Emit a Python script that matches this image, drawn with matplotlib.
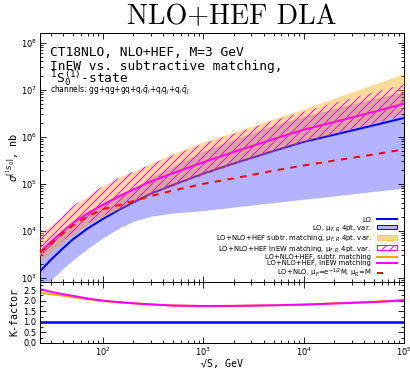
import matplotlib
matplotlib.use('Agg')
import matplotlib.pyplot as plt
from matplotlib.lines import Line2D
from matplotlib.patches import Patch
from matplotlib.ticker import MultipleLocator

# sqrt(S) grid, GeV
sqrts = [23.5, 30, 40, 50, 70, 100, 150, 200, 300, 500, 1e3, 2e3, 5e3, 1e4, 2e4, 5e4, 1e5]

# cross sections, nb
lo = [1.38e3, 2.4e3, 4.3e3, 6.6e3, 1.12e4, 1.8e4, 2.95e4, 4.0e4, 6.2e4, 9.5e4,
      1.65e5, 2.7e5, 5.0e5, 7.8e5, 1.1e6, 1.75e6, 2.5e6]
lo_up = [3.3e3, 5.3e3, 9e3, 1.35e4, 2.3e4, 3.6e4, 5.8e4, 8e4, 1.4e5, 2.4e5,
         5e5, 8.8e5, 1.75e6, 2.7e6, 4e6, 6.5e6, 9e6]
lo_dn = [5.6e2, 8.9e2, 1.6e3, 2.4e3, 4.2e3, 7.2e3, 1.2e4, 1.6e4, 2.05e4, 2.4e4,
         2.7e4, 3.2e4, 4e4, 4.7e4, 5.5e4, 6.9e4, 8.1e4]

sub = [3.28e3, 5.54e3, 9.6e3, 1.43e4, 2.32e4, 3.56e4, 5.66e4, 7.5e4, 1.13e5, 1.68e5,
       2.88e5, 4.73e5, 8.9e5, 1.42e6, 2.06e6, 3.41e6, 5.08e6]
sub_up = [8.9e3, 1.3e4, 2.1e4, 3.2e4, 5.5e4, 9.1e4, 1.45e5, 1.85e5, 2.75e5, 4.4e5,
          7.8e5, 1.25e6, 2.4e6, 3.9e6, 6.6e6, 1.3e7, 2.2e7]
sub_dn = [2.3e3, 3.6e3, 5.8e3, 8.3e3, 1.35e4, 2.0e4, 3.0e4, 3.9e4, 5.8e4, 8.8e4,
          1.55e5, 2.6e5, 5.0e5, 8.0e5, 1.2e6, 2.0e6, 3.2e6]

inew = [3.52e3, 5.81e3, 9.9e3, 1.47e4, 2.35e4, 3.6e4, 5.66e4, 7.5e4, 1.13e5, 1.68e5,
        2.88e5, 4.73e5, 8.9e5, 1.41e6, 2.05e6, 3.38e6, 5.03e6]
inew_up = [9.5e3, 1.45e4, 2.3e4, 3.4e4, 5.6e4, 9.0e4, 1.4e5, 1.8e5, 2.6e5, 4.1e5,
           7.1e5, 1.15e6, 2.2e6, 3.4e6, 5.2e6, 8.8e6, 1.3e7]
inew_dn = [2.6e3, 4e3, 6.3e3, 9e3, 1.45e4, 2.1e4, 3.1e4, 4.0e4, 5.9e4, 8.8e4,
           1.5e5, 2.5e5, 4.7e5, 7.5e5, 1.1e6, 1.85e6, 2.8e6]

nlo = [3.5e3, 5.3e3, 9e3, 1.3e4, 2.05e4, 2.9e4, 3.6e4, 4.3e4, 5.5e4, 7.2e4,
       1.0e5, 1.3e5, 1.9e5, 2.45e5, 3.1e5, 4.2e5, 5.4e5]

k_lo = [v / l for v, l in zip(lo, lo)]
k_sub = [v / l for v, l in zip(sub, lo)]
k_inew = [v / l for v, l in zip(inew, lo)]

c_blue = '#0000ff'
c_band = '#b3b3ff'
c_orange = '#ffa500'
c_mag = '#ff00ff'
c_red = '#ff0000'

plt.rcParams['hatch.linewidth'] = 0.6

fig = plt.figure(figsize=(410 / 120, 370 / 120), dpi=120)
ax = fig.add_axes([40 / 410, 1 - 282 / 370, 364 / 410, 249 / 370])
axk = fig.add_axes([40 / 410, 1 - 343 / 370, 364 / 410, 61 / 370], sharex=ax)

ax.fill_between(sqrts, lo_dn, lo_up, color=c_band, lw=0, zorder=1)
ax.plot(sqrts, lo, color=c_blue, lw=1.2, zorder=2)
ax.fill_between(sqrts, sub_dn, sub_up, color=c_orange, alpha=0.4, lw=0, zorder=3)
ax.fill_between(sqrts, inew_dn, inew_up, facecolor='none', edgecolor=c_mag,
                hatch='/////', lw=0, zorder=4)
ax.plot(sqrts, sub, color=c_orange, lw=1.2, zorder=5)
ax.plot(sqrts, inew, color=c_mag, lw=1.2, zorder=6)
ax.plot(sqrts, nlo, color=c_red, lw=1.2, ls=(0, (3.2, 3.2)), zorder=7)

ax.set_xscale('log')
ax.set_yscale('log')
ax.set_xlim(23.5, 1e5)
ax.set_ylim(8.2e2, 1.6e8)

axk.plot(sqrts, k_lo, color=c_blue, lw=1.5)
axk.plot(sqrts, k_sub, color=c_orange, lw=1.2)
axk.plot(sqrts, k_inew, color=c_mag, lw=1.2)
axk.set_ylim(0, 2.88)
axk.yaxis.set_major_locator(MultipleLocator(0.5))
axk.yaxis.set_minor_locator(MultipleLocator(0.25))

for a in (ax, axk):
    a.tick_params(which='both', direction='in', top=True, right=True,
                  labelsize=5, width=0.5, pad=2)
    a.tick_params(which='major', length=3.5)
    a.tick_params(which='minor', length=2)
    for sp in a.spines.values():
        sp.set_linewidth(0.6)
ax.tick_params(labelbottom=False)
axk.tick_params(axis='x', pad=1.5)

mono = 'DejaVu Sans Mono'
ax.set_ylabel(r'$\sigma^{[^1S_0]}$, nb', family=mono, fontsize=6, labelpad=0)
axk.set_ylabel('K-factor', family=mono, fontsize=6, labelpad=2.5)
axk.set_xlabel('√S, GeV', family=mono, fontsize=6, labelpad=0.5)

fig.text(232 / 410, 1 - 17 / 370, 'NLO+HEF DLA', family='cmr10', fontsize=16.8,
         ha='center', va='center')

ax.text(0.027, 0.92, 'CT18NLO, NLO+HEF, M=3 GeV', transform=ax.transAxes,
        family=mono, fontsize=7.7, va='center')
ax.text(0.027, 0.866, 'InEW vs. subtractive matching,', transform=ax.transAxes,
        family=mono, fontsize=7.7, va='center')
ax.text(0.027, 0.80, r'$^1\mathtt{S}_\mathtt{0}^{\mathtt{(1)}}$-state', transform=ax.transAxes,
        family=mono, fontsize=7.7, va='baseline')
ax.text(0.027, 0.771,
        r'channels: gg+qg+gq+q$_i\bar{q}_i$+q$_i$q$_j$+q$_i\bar{q}_j$',
        transform=ax.transAxes, fontsize=4.5, va='center')

handles = [
    Line2D([], [], color=c_blue, lw=1.2),
    Patch(facecolor=c_band, edgecolor=c_blue, lw=0.6),
    Patch(facecolor=c_orange, alpha=0.45, edgecolor=c_orange, lw=0.6),
    Patch(facecolor='white', edgecolor=c_mag, hatch='/////', lw=0.6),
    Line2D([], [], color=c_orange, lw=1.2),
    Line2D([], [], color=c_mag, lw=1.2),
    Line2D([], [], color=c_red, lw=1.2, ls=(0, (3, 7))),
]
labels = [
    'LO',
    'LO, μ$_{F,R}$ 4pt. var.',
    'LO+NLO+HEF subtr. matching, μ$_{F,R}$ 4pt. var.',
    'LO+NLO+HEF InEW matching, μ$_{F,R}$ 4pt. var.',
    'LO+NLO+HEF, subtr. matching',
    'LO+NLO+HEF, InEW matching',
    'LO+NLO, μ$_F$=e$^{-1/2}$M, μ$_R$=M',
]
ax.legend(handles, labels, loc='lower right', bbox_to_anchor=(0.985, 0.005),
          frameon=False, fontsize=4.1, markerfirst=False, labelspacing=0.06,
          handlelength=3.0, handletextpad=0.8, borderpad=0.2, borderaxespad=0)

fig.savefig('out.png', dpi=120)
